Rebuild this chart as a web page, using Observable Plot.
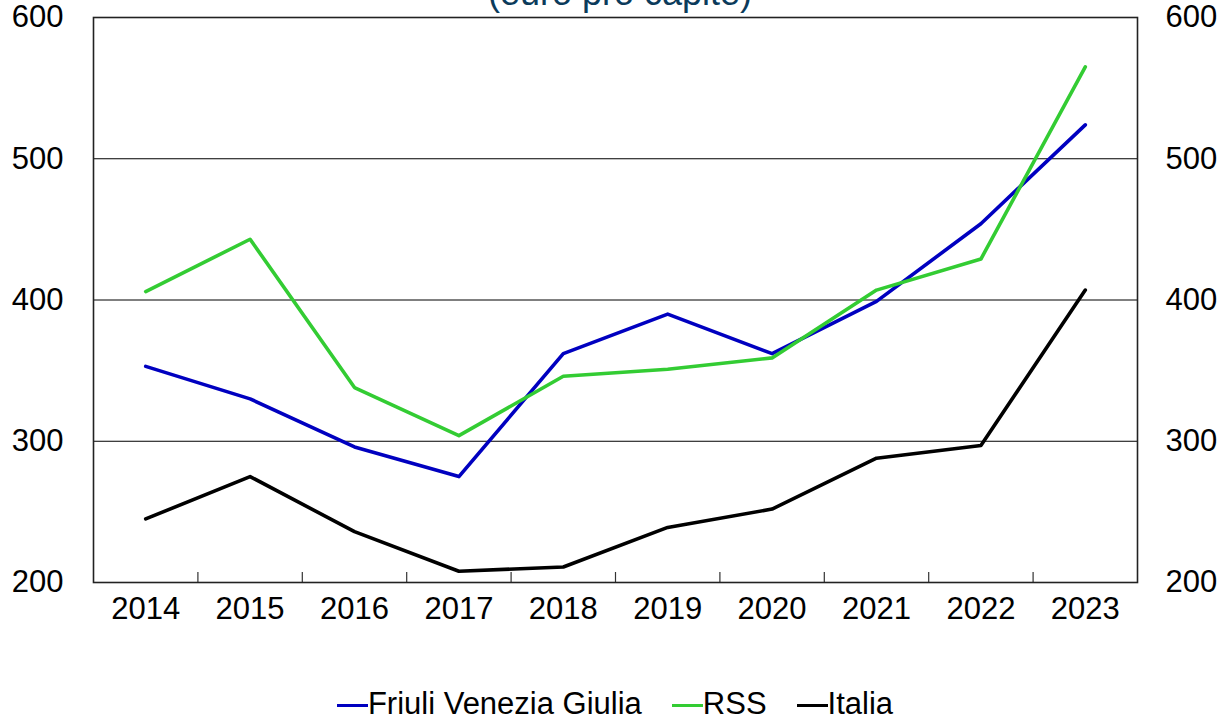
<!DOCTYPE html>
<html>
<head>
<meta charset="utf-8">
<script src="https://cdn.jsdelivr.net/npm/d3@7"></script>
<script src="https://cdn.jsdelivr.net/npm/@observablehq/plot@0.6"></script>
<style>
  html, body { margin: 0; padding: 0; background: #fff; width: 1222px; height: 719px; overflow: hidden; position: relative; font-family: "Liberation Sans", Arial, sans-serif; }
  #title { position: absolute; left: 0; width: 1240px; top: -25px; text-align: center; font-size: 36px; line-height: 36px; color: #0b3b5b; z-index: 2; }
  #chart { position: absolute; left: 0; top: 0; }
  #legend { position: absolute; left: 0; width: 1230px; top: 686px; display: flex; justify-content: center; font-size: 31px; line-height: 36px; color: #000; }
  .item { display: flex; align-items: center; margin: 0 15px; }
  .sw { width: 31px; height: 3px; margin-top: 2px; }
</style>
</head>
<body>
<div id="title">(euro pro capite)</div>
<div id="chart"></div>
<div id="legend"></div>
<script>
const years = [2014, 2015, 2016, 2017, 2018, 2019, 2020, 2021, 2022, 2023];
const fvg = [353, 330, 296, 275, 362, 390, 362, 399, 454, 524];
const rss = [406, 443, 338, 304, 346, 351, 359, 407, 429, 565];
const italia = [245, 275, 236, 208, 211, 239, 252, 288, 297, 407];
const seriesNames = ["Friuli Venezia Giulia", "RSS", "Italia"];
const seriesColors = ["#0000c0", "#33cc33", "#000000"];
const yTicks = [200, 300, 400, 500, 600];
const gridValues = [300, 400, 500];

const seriesValues = [fvg, rss, italia];
const data = [];
seriesNames.forEach((name, i) => {
  years.forEach((yr, j) => data.push({series: name, year: yr, value: seriesValues[i][j]}));
});
const bounds = years.slice(0, -1).map(y => y + 0.5);

const chart = Plot.plot({
  width: 1222,
  height: 640,
  marginLeft: 93,
  marginRight: 85,
  marginTop: 17,
  marginBottom: 58,
  style: {fontSize: "31px", fontFamily: "'Liberation Sans', Arial, sans-serif", color: "#000", background: "transparent"},
  x: {type: "linear", domain: [years[0] - 0.5, years[years.length - 1] + 0.5]},
  y: {domain: [yTicks[0], yTicks[yTicks.length - 1]]},
  color: {domain: seriesNames, range: seriesColors},
  marks: [
    Plot.ruleY(gridValues, {stroke: "#000", strokeWidth: 1}),
    Plot.ruleX(bounds, {stroke: "#333", strokeWidth: 1.2, insetTop: 555}),
    Plot.frame({stroke: "#222", strokeWidth: 1.6}),
    Plot.axisY(yTicks, {anchor: "left", tickSize: 0, tickPadding: 30, label: null, fontSize: 31}),
    Plot.axisY(yTicks, {anchor: "right", tickSize: 0, tickPadding: 28, label: null, fontSize: 31}),
    Plot.axisX(years, {anchor: "bottom", tickSize: 0, tickPadding: 14, tickFormat: d => String(d), label: null, fontSize: 31}),
    Plot.line(data, {x: "year", y: "value", z: "series", stroke: "series", strokeWidth: 3.6, strokeLinecap: "round", strokeLinejoin: "round"})
  ]
});
document.getElementById("chart").appendChild(chart);

const legend = document.getElementById("legend");
seriesNames.forEach((name, i) => {
  const item = document.createElement("div");
  item.className = "item";
  const sw = document.createElement("span");
  sw.className = "sw";
  sw.style.background = seriesColors[i];
  const t = document.createElement("span");
  t.textContent = name;
  item.appendChild(sw);
  item.appendChild(t);
  legend.appendChild(item);
});
</script>
</body>
</html>
